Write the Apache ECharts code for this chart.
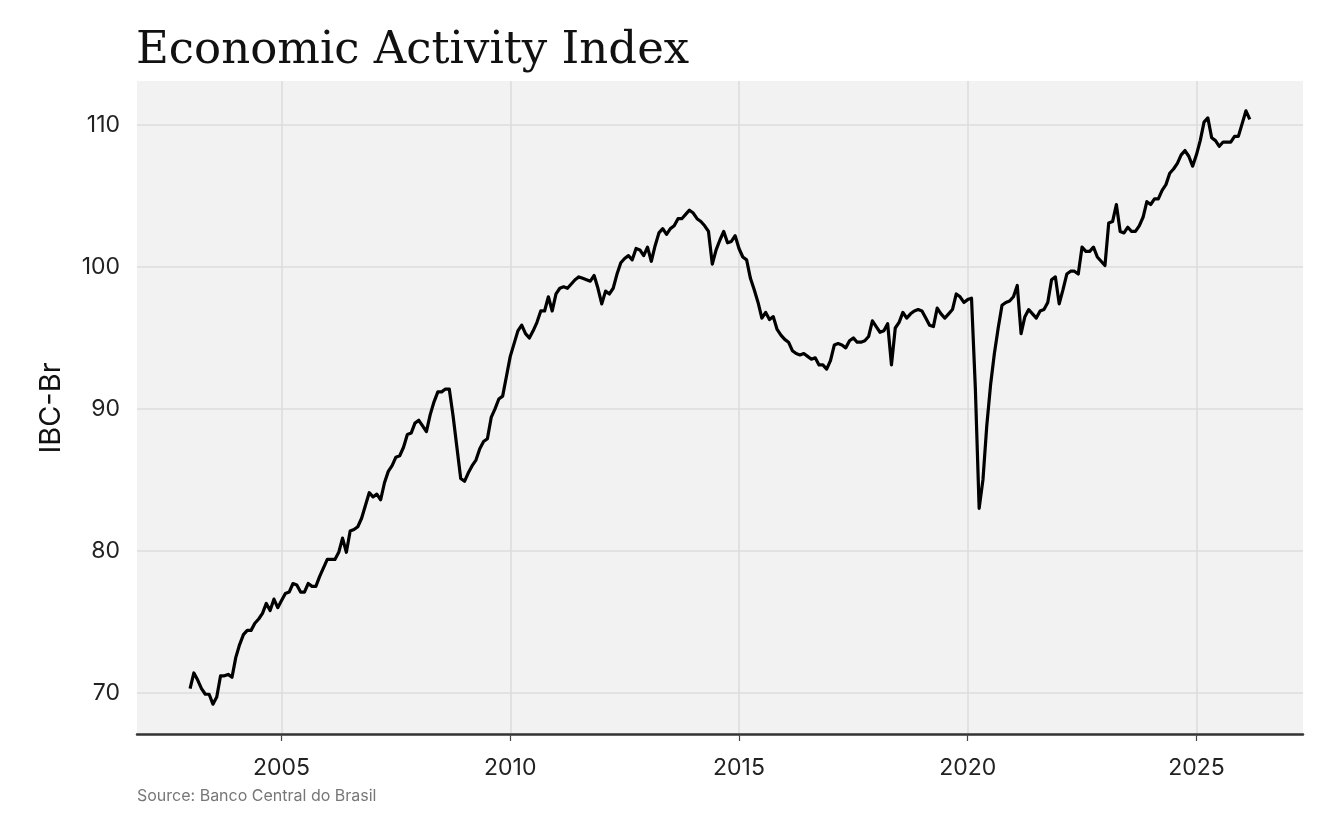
<!DOCTYPE html>
<html>
<head>
<meta charset="utf-8">
<script src="https://cdn.jsdelivr.net/npm/echarts@6/dist/echarts.min.js"></script>
<style>
html,body{margin:0;padding:0;background:#fff;}
#chart{width:1344px;height:830px;}
</style>
</head>
<body>
<div id="chart"></div>
<script>
// Monthly IBC-Br, Jan 2003 .. Mar 2026 (one row per year)
const startYear = 2003;
const ibcBr = [
  70.3, 71.4, 70.9, 70.3, 69.9, 69.9, 69.2, 69.7, 71.2, 71.2, 71.3, 71.1,
  72.5, 73.4, 74.1, 74.4, 74.4, 74.9, 75.2, 75.6, 76.3, 75.8, 76.6, 76.0,
  76.5, 77.0, 77.1, 77.7, 77.6, 77.1, 77.1, 77.7, 77.5, 77.5, 78.2, 78.8,
  79.4, 79.4, 79.4, 79.9, 80.9, 79.9, 81.4, 81.5, 81.7, 82.3, 83.2, 84.1,
  83.8, 84.0, 83.6, 84.8, 85.6, 86.0, 86.6, 86.7, 87.3, 88.2, 88.3, 89.0,
  89.2, 88.8, 88.4, 89.6, 90.5, 91.2, 91.2, 91.4, 91.4, 89.5, 87.3, 85.1,
  84.9, 85.5, 86.0, 86.4, 87.2, 87.7, 87.9, 89.4, 90.0, 90.7, 90.9, 92.3,
  93.7, 94.6, 95.5, 95.9, 95.3, 95.0, 95.5, 96.1, 96.9, 96.9, 97.9, 96.9,
  98.1, 98.5, 98.6, 98.5, 98.8, 99.1, 99.3, 99.2, 99.1, 99.0, 99.4, 98.5,
  97.4, 98.3, 98.1, 98.5, 99.5, 100.3, 100.6, 100.8, 100.5, 101.3, 101.2, 100.8,
  101.4, 100.4, 101.5, 102.4, 102.7, 102.3, 102.7, 102.9, 103.4, 103.4, 103.7, 104.0,
  103.8, 103.4, 103.2, 102.9, 102.5, 100.2, 101.2, 101.9, 102.5, 101.7, 101.8, 102.2,
  101.3, 100.7, 100.5, 99.2, 98.4, 97.5, 96.4, 96.8, 96.3, 96.5, 95.6, 95.2,
  94.9, 94.7, 94.1, 93.9, 93.8, 93.9, 93.7, 93.5, 93.6, 93.1, 93.1, 92.8,
  93.4, 94.5, 94.6, 94.5, 94.3, 94.8, 95.0, 94.7, 94.7, 94.8, 95.1, 96.2,
  95.8, 95.4, 95.5, 96.0, 93.1, 95.7, 96.1, 96.8, 96.4, 96.7, 96.9, 97.0,
  96.9, 96.4, 95.9, 95.8, 97.1, 96.7, 96.4, 96.7, 97.0, 98.1, 97.9, 97.5,
  97.7, 97.8, 91.5, 83.0, 85.0, 88.8, 91.7, 93.9, 95.7, 97.3, 97.5, 97.6,
  97.9, 98.7, 95.3, 96.5, 97.0, 96.7, 96.4, 96.9, 97.0, 97.5, 99.1, 99.3,
  97.4, 98.4, 99.5, 99.7, 99.7, 99.5, 101.4, 101.1, 101.1, 101.4, 100.7, 100.4,
  100.1, 103.1, 103.2, 104.4, 102.5, 102.4, 102.8, 102.5, 102.5, 102.9, 103.5, 104.6,
  104.4, 104.8, 104.8, 105.4, 105.8, 106.6, 106.9, 107.3, 107.9, 108.2, 107.8, 107.1,
  107.9, 108.9, 110.2, 110.5, 109.1, 108.9, 108.5, 108.8, 108.8, 108.8, 109.2, 109.2,
  110.1, 111.0, 110.4
];
const xTicks = [2005, 2010, 2015, 2020, 2025];
const yTicks = [70, 80, 90, 100, 110];
const titleText = 'Economic Activity Index';
const yTitle = 'IBC-Br';
const sourceText = 'Source: Banco Central do Brasil';

const seriesData = ibcBr.map((v, i) => [startYear + i / 12, v]);

const chart = echarts.init(document.getElementById('chart'), null, {renderer: 'canvas'});
chart.setOption({
  animation: false,
  backgroundColor: '#ffffff',
  grid: {
    left: 137, right: 41, top: 81, bottom: 96,
    show: true, backgroundColor: '#f2f2f2', borderWidth: 0
  },
  xAxis: {
    type: 'value',
    min: 2001.84, max: 2027.33,
    axisLine: {show: true, onZero: false, lineStyle: {color: '#333333', width: 2.5}},
    axisTick: {show: true, length: 7, customValues: xTicks, lineStyle: {color: '#444444', width: 1.2}},
    axisLabel: {customValues: xTicks, margin: 23, fontFamily: 'Inter', fontSize: 23, color: '#222222',
      formatter: v => String(v)},
    splitLine: {show: true, lineStyle: {color: '#dcdcdc', width: 1.6}}
  },
  yAxis: {
    type: 'value',
    min: 67.1, max: 113.1,
    axisLine: {show: false},
    axisTick: {show: false, customValues: yTicks},
    axisLabel: {customValues: yTicks, margin: 17, fontFamily: 'Inter', fontSize: 23, color: '#222222',
      formatter: v => String(v)},
    splitLine: {show: true, lineStyle: {color: '#dcdcdc', width: 1.6}}
  },
  graphic: [
    {type: 'text', left: 136, top: 29, style: {text: titleText, font: '45px "DejaVu Serif"', fill: '#111111'}},
    {type: 'text', x: 51, y: 408, rotation: Math.PI / 2,
      style: {text: yTitle, font: '29px Inter', fill: '#111111', align: 'center', verticalAlign: 'middle'}},
    {type: 'text', left: 137, top: 788, style: {text: sourceText, font: '16px Inter', fill: '#777777'}}
  ],
  series: [{
    type: 'line',
    data: seriesData,
    showSymbol: false,
    symbol: 'none',
    lineStyle: {color: '#000000', width: 3.2, join: 'round'},
    silent: true
  }]
});
</script>
</body>
</html>
